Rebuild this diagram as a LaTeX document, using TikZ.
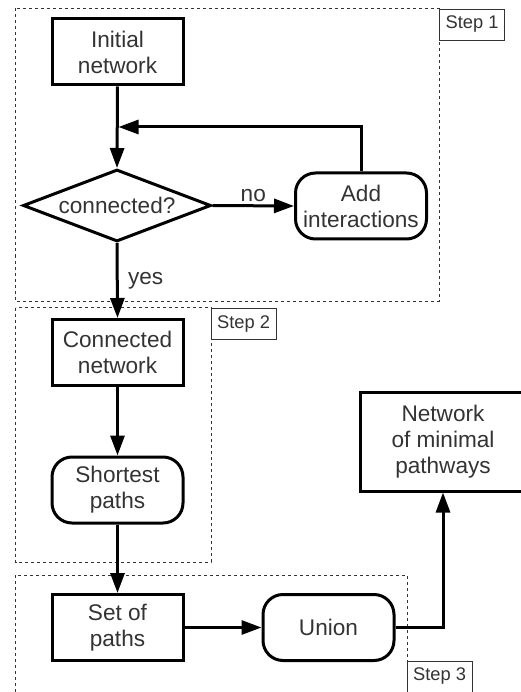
\documentclass[tikz,border=0pt]{standalone}
\usepackage{fontspec}
\setmainfont{Liberation Sans}
\usetikzlibrary{arrows.meta,shapes.geometric}
\definecolor{txt}{HTML}{333333}
\begin{document}
\begin{tikzpicture}[x=1pt,y=-1pt,
  every node/.style={font=\fontsize{22.6}{26}\selectfont, text=txt, align=center},
  blk/.style={draw=black, line width=3pt, minimum width=131pt, minimum height=66pt, inner sep=0pt},
  rblk/.style={blk, rounded corners=20pt},
  dia/.style={draw=black, line width=3pt, diamond, minimum width=188pt, minimum height=72pt, inner sep=0pt, shape aspect=2.6},
  arr/.style={line width=3pt, -{Triangle[length=20pt,width=14pt]}},
  stepframe/.style={draw=txt, line width=0.8pt, dash pattern=on 3pt off 3pt},
  steplbl/.style={draw=txt, line width=0.8pt, fill=white, font=\fontsize{18.3}{20}\selectfont, minimum width=65pt, minimum height=31pt, inner sep=0pt},
  lbl/.style={font=\fontsize{22.6}{26}\selectfont}]
\useasboundingbox (0,0) rectangle (521,692);
% step frames
\draw[stepframe] (15.5,8.5) rectangle (439,301);
\draw[stepframe] (15.5,307.5) rectangle (211,562);
\draw[stepframe] (15.5,575) rectangle (407,705);
\node[steplbl] (s1) at (472,24.5) {Step 1};
\node[steplbl] (s2) at (243.5,324) {Step 2};
\node[steplbl] (s3) at (439.5,676.5) {Step 3};
% nodes
\node[blk] (init) at (117.5,52) {Initial\\network};
\node[dia] (conn) at (117,205.5) {connected?};
\node[rblk] (add) at (361,206) {Add\\interactions};
\node[blk] (cnet) at (117.5,352.5) {Connected\\network};
\node[rblk] (short) at (117.5,490) {Shortest\\paths};
\node[blk] (set) at (117.5,627.5) {Set of\\paths};
\node[rblk] (union) at (328.5,627.5) {Union};
\node[blk, minimum width=166pt, minimum height=99pt] (net) at (443,441.5) {Network\\of minimal\\pathways};
% connectors
\coordinate (j) at (118.5,127);
\draw[arr] (init.south) -- (conn.north);
\draw[arr] (add.north) |- (j);
\draw[arr] (conn.east) -- node[lbl, above, yshift=-1pt] (no) {no} (add.west);
\draw[arr] (conn.south) -- node[lbl, right, pos=0.5, xshift=6pt] (yes) {yes} (cnet.north);
\draw[arr] (cnet.south) -- (short.north);
\draw[arr] (short.south) -- (set.north);
\draw[arr] (set.east) -- (union.west);
\draw[arr] (union.east) -| (net.south);
\end{tikzpicture}
\end{document}
